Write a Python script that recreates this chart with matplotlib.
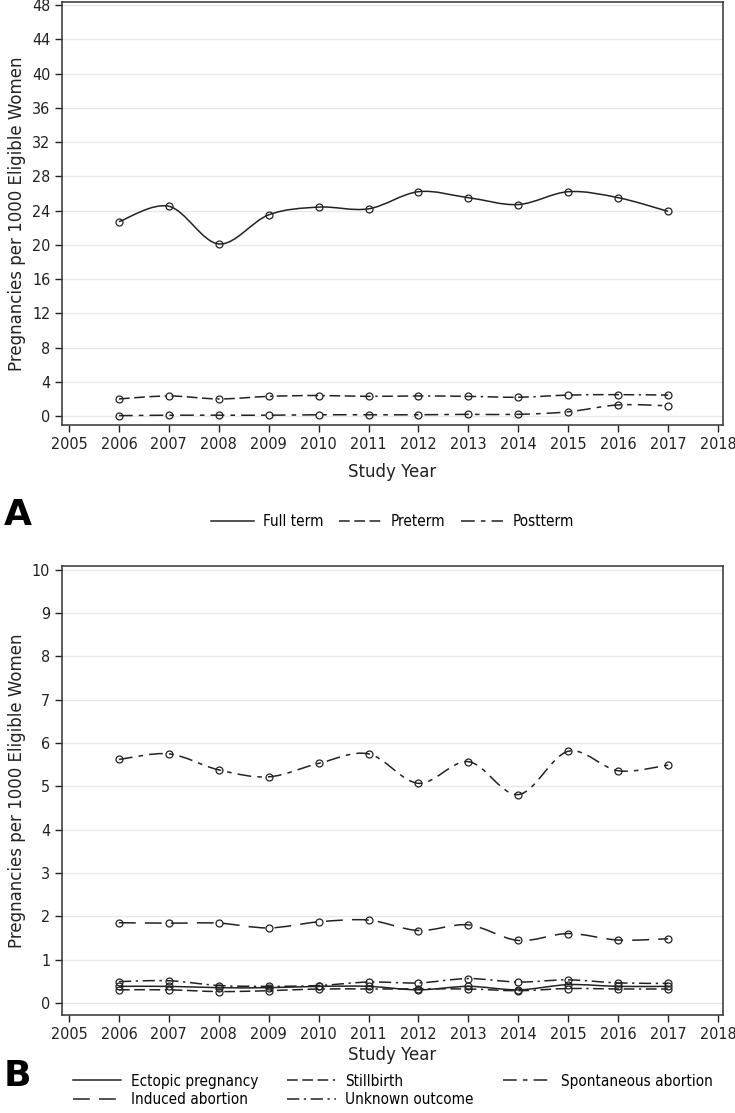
import numpy as np
import matplotlib.pyplot as plt
from matplotlib.path import Path
from matplotlib.patches import PathPatch
from matplotlib.lines import Line2D
from matplotlib import font_manager

plt.rcParams['font.family'] = ['DejaVu Sans']

# condensed face for ticks and legends if present, else Liberation Sans
_names = {f.name for f in font_manager.fontManager.ttflist}
_cond = [f for f in font_manager.fontManager.ttflist
         if f.name == 'DejaVu Sans' and f.stretch == 'condensed']
if 'Liberation Sans Narrow' in _names:
    NARROW = dict(family='Liberation Sans Narrow', stretch='normal')
elif _cond:
    NARROW = dict(family='DejaVu Sans', stretch='condensed')
else:
    NARROW = dict(family='Liberation Sans', stretch='normal')

years = [2006, 2007, 2008, 2009, 2010, 2011, 2012, 2013, 2014, 2015, 2016, 2017]

# panel A
full_term = [22.7, 24.5, 20.1, 23.5, 24.4, 24.2, 26.2, 25.5, 24.7, 26.2, 25.5, 23.9]
preterm = [2.0, 2.35, 2.0, 2.3, 2.4, 2.3, 2.35, 2.3, 2.2, 2.45, 2.5, 2.45]
postterm = [0.05, 0.1, 0.1, 0.1, 0.15, 0.15, 0.15, 0.2, 0.2, 0.5, 1.3, 1.2]

# panel B
ectopic = [0.38, 0.38, 0.35, 0.35, 0.38, 0.38, 0.30, 0.38, 0.30, 0.42, 0.38, 0.38]
stillbirth = [0.30, 0.30, 0.26, 0.28, 0.32, 0.32, 0.32, 0.32, 0.28, 0.33, 0.32, 0.32]
spontaneous = [5.62, 5.75, 5.38, 5.22, 5.53, 5.75, 5.07, 5.57, 4.81, 5.81, 5.36, 5.49]
induced = [1.85, 1.84, 1.84, 1.73, 1.87, 1.91, 1.67, 1.80, 1.44, 1.60, 1.45, 1.48]
unknown = [0.49, 0.51, 0.40, 0.38, 0.40, 0.48, 0.46, 0.56, 0.48, 0.53, 0.46, 0.45]

SOLID = (None, None)
DASH3DOT = (0, (7, 3, 7, 3, 7, 3, 1.5, 3))
DASHDOT_SHORT = (0, (9, 4, 3, 4))
LONGDASH = (0, (11, 6))
DASHDOT = (0, (8, 3, 1.5, 3))


def smooth_path(xs, ys):
    # cubic bezier through the points (catmull-rom tangents)
    xs = np.asarray(xs, float)
    ys = np.asarray(ys, float)
    n = len(xs)
    verts = [(xs[0], ys[0])]
    codes = [Path.MOVETO]
    for i in range(n - 1):
        p0 = (xs[max(i - 1, 0)], ys[max(i - 1, 0)])
        p1 = (xs[i], ys[i])
        p2 = (xs[i + 1], ys[i + 1])
        p3 = (xs[min(i + 2, n - 1)], ys[min(i + 2, n - 1)])
        c1 = (p1[0] + (p2[0] - p0[0]) / 6, p1[1] + (p2[1] - p0[1]) / 6)
        c2 = (p2[0] - (p3[0] - p1[0]) / 6, p2[1] - (p3[1] - p1[1]) / 6)
        verts += [c1, c2, p2]
        codes += [Path.CURVE4] * 3
    return Path(verts, codes)


def draw_series(ax, ys, ls):
    patch = PathPatch(smooth_path(years, ys), fill=False, edgecolor='#222222',
                      lw=1.1)
    if ls[1] is not None:
        patch.set_linestyle(ls)
    ax.add_patch(patch)
    ax.plot(years, ys, 'o', ms=5, mfc='none', mec='#222222', mew=0.9, ls='none')


def style_axes(ax, yticks, ylim, xpad):
    ax.set_xlim(2004.86, 2018.1)
    ax.set_ylim(*ylim)
    ax.set_xticks(range(2005, 2019))
    ax.set_yticks(yticks)
    ax.grid(axis='y', color='#e8e8e8', lw=1)
    ax.set_axisbelow(True)
    ax.tick_params(direction='out', length=5, width=1, labelsize=11.5, colors='#222222')
    for lab in ax.get_xticklabels() + ax.get_yticklabels():
        lab.set_family(NARROW['family'])
        lab.set_stretch(NARROW['stretch'])
    for s in ax.spines.values():
        s.set_color('#333333')
        s.set_linewidth(1.1)
    ax.set_xlabel('Study Year', fontsize=12, labelpad=xpad, color='#222222')
    ax.set_ylabel('Pregnancies per 1000 Eligible Women', fontsize=12, labelpad=4,
                  color='#222222')


def handle(ls):
    if ls[1] is None:
        return Line2D([], [], color='#222222', lw=1.1)
    return Line2D([], [], color='#222222', lw=1.1, ls=ls)


legend_prop = {'family': NARROW['family'], 'stretch': NARROW['stretch'], 'size': 11}

fig = plt.figure(figsize=(7.35, 11.13), dpi=100)

axA = fig.add_axes([0.0844, 0.6181, 0.8993, 0.3801])
draw_series(axA, full_term, SOLID)
draw_series(axA, preterm, DASH3DOT)
draw_series(axA, postterm, DASHDOT_SHORT)
style_axes(axA, range(0, 49, 4), (-1.05, 48.35), 8)
axA.legend([handle(SOLID), handle(DASH3DOT), handle(DASHDOT_SHORT)],
           ['Full term', 'Preterm', 'Postterm'], ncol=3, frameon=False,
           loc='upper center', bbox_to_anchor=(0.5, -0.178), prop=legend_prop,
           handlelength=2.8, columnspacing=1.0, handletextpad=0.6)
fig.text(0.005, 0.537, 'A', fontsize=26, fontweight='bold', va='center')

axB = fig.add_axes([0.0844, 0.0881, 0.8993, 0.4034])
draw_series(axB, ectopic, SOLID)
draw_series(axB, stillbirth, DASH3DOT)
draw_series(axB, spontaneous, DASHDOT_SHORT)
draw_series(axB, induced, LONGDASH)
draw_series(axB, unknown, DASHDOT)
style_axes(axB, range(0, 11), (-0.28, 10.09), 3)
axB.legend([handle(SOLID), handle(LONGDASH), handle(DASH3DOT), handle(DASHDOT),
            handle(DASHDOT_SHORT)],
           ['Ectopic pregnancy', 'Induced abortion', 'Stillbirth', 'Unknown outcome',
            'Spontaneous abortion'], ncol=3, frameon=False,
           loc='upper center', bbox_to_anchor=(0.5, -0.1), prop=legend_prop,
           handlelength=3.2, columnspacing=1.9, handletextpad=0.6,
           labelspacing=0.25)
fig.text(0.005, 0.033, 'B', fontsize=26, fontweight='bold', va='center')

fig.savefig('out.png', dpi=100)
